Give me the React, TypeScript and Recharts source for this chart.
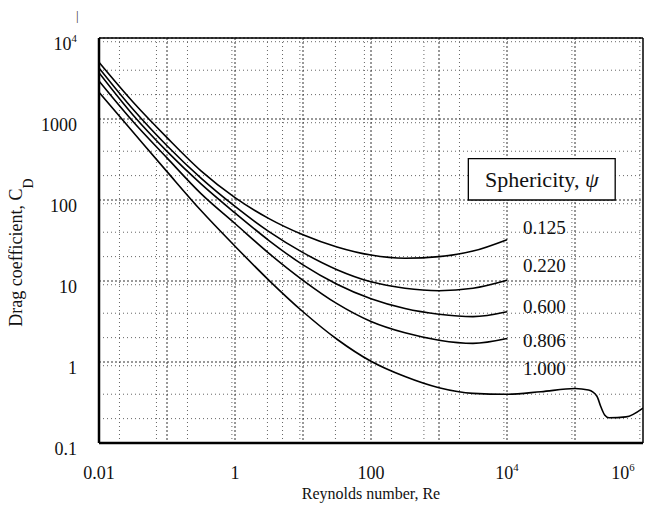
import {
  LineChart,
  Line,
  XAxis,
  YAxis,
  CartesianGrid,
  ReferenceArea,
  ReferenceDot,
  ReferenceLine,
  Label,
} from "recharts";

const SERIF = '"Liberation Serif", "DejaVu Serif", serif';

// Reynolds numbers where the non-spherical curves were read
const reynolds = [0.01, 0.0316, 0.1, 0.316, 1, 3.16, 10, 31.6, 100, 316, 1000, 3162, 10000];
const cd0125 = [5010, 1620, 589, 229, 107, 58.9, 37.2, 26.3, 20.9, 19.1, 20.0, 23.4, 32.4];
const cd0220 = [4270, 1320, 468, 186, 83.2, 40.7, 22.4, 13.8, 9.77, 8.13, 7.59, 8.13, 10.2];
const cd0600 = [3720, 1120, 398, 158, 69.2, 31.6, 15.8, 9.12, 6.03, 4.57, 3.89, 3.63, 4.17];
const cd0806 = [2950, 933, 331, 120, 51.3, 21.9, 10.2, 5.25, 3.16, 2.29, 1.86, 1.7, 1.95];

// sphere curve runs on to Re = 1e6 (drag crisis near 3e5)
const reSphere = [
  0.01, 0.0316, 0.1, 0.316, 1, 3.16, 10, 31.6, 100, 316, 1000, 3162, 10000, 31623,
  100000, 158000, 209000, 240000, 275000, 316000, 562000, 1000000,
];
const cdSphere = [
  2140, 692, 224, 74.1, 26.9, 10.2, 4.17, 1.91, 1.02, 0.66, 0.48, 0.41, 0.4, 0.43,
  0.47, 0.45, 0.38, 0.28, 0.22, 0.205, 0.21, 0.27,
];

const sphericities = ["0.125", "0.220", "0.600", "0.806", "1.000"];
const labelCd = [46, 15.8, 4.8, 1.87, 0.84];
const labelRe = 17200;

const xTicks = [0.01, 1, 100, 10000, 1000000];
const yTicks = [0.1, 1, 10, 100, 1000, 10000];
const xDecades = [0.01, 0.1, 1, 10, 100, 1000, 10000, 100000];
const yDecades = [0.1, 1, 10, 100, 1000];

const minorOf = (decades: number[]) =>
  decades.flatMap((d) => [2, 3, 4, 5, 6, 7, 8, 9].map((k) => d * k));

const curves = [cd0125, cd0220, cd0600, cd0806].map((vals) =>
  reynolds.map((re, i) => ({ re, cd: vals[i] }))
);
const sphere = reSphere.map((re, i) => ({ re, cd: cdSphere[i] }));

const fmt = (v: number, fontSize: number) => {
  if (v >= 10000) {
    const exp = Math.round(Math.log10(v));
    return (
      <>
        10
        <tspan dy={-fontSize * 0.45} fontSize={fontSize * 0.6}>
          {exp}
        </tspan>
      </>
    );
  }
  return String(v);
};

const XTick = (props: any) => {
  const { x, y, payload } = props;
  return (
    <text x={x} y={y + 36} textAnchor="middle" fontSize={18} fontFamily={SERIF} fill="#111">
      {fmt(payload.value, 18)}
    </text>
  );
};

const YTick = (props: any) => {
  const { x, y, payload } = props;
  return (
    <text x={x - 22} y={y + 12} textAnchor="end" fontSize={18} fontFamily={SERIF} fill="#111">
      {fmt(payload.value, 18)}
    </text>
  );
};

const YTitle = (props: any) => {
  const { viewBox } = props;
  const bx = viewBox.x + 22;
  const cy = viewBox.y + viewBox.height / 2 + 12;
  return (
    <g>
      <text
        x={bx}
        y={cy}
        transform={`rotate(-90, ${bx}, ${cy})`}
        textAnchor="middle"
        fontSize={18}
        fontFamily={SERIF}
        fill="#111"
      >
        Drag coefficient, C
        <tspan dy={11} fontSize={14}>
          D
        </tspan>
      </text>
      <text x={viewBox.x + 76} y={viewBox.y - 18} fontSize={13} fontFamily={SERIF} fill="#333">
        |
      </text>
    </g>
  );
};

const XTitle = (props: any) => {
  const { viewBox } = props;
  return (
    <text
      x={viewBox.x + viewBox.width / 2}
      y={viewBox.y + 56}
      textAnchor="middle"
      fontSize={16}
      fontFamily={SERIF}
      fill="#111"
    >
      Reynolds number, Re
    </text>
  );
};

const CurveLabel = (props: any) => {
  const { viewBox, value } = props;
  return (
    <text x={viewBox.x} y={viewBox.y} dy="0.35em" fontSize={19} fontFamily={SERIF} fill="#111">
      {value}
    </text>
  );
};

const BoxLabel = (props: any) => {
  const { viewBox } = props;
  return (
    <text
      x={viewBox.x + viewBox.width / 2}
      y={viewBox.y + viewBox.height / 2}
      dy="0.35em"
      textAnchor="middle"
      fontSize={22}
      fontFamily={SERIF}
      fill="#111"
    >
      Sphericity,{"  "}
      <tspan fontStyle="italic">ψ</tspan>
    </text>
  );
};

export default function App() {
  // pull the chart over the body margin so the page corner is the chart corner
  return (
    <div style={{ width: 651, height: 505, marginTop: -8, marginLeft: -8, background: "#fff" }}>
      <LineChart width={651} height={505} margin={{ top: 38, right: 8, bottom: 0, left: 0 }}>
        <CartesianGrid
          horizontalValues={minorOf(yDecades)}
          verticalValues={minorOf(xDecades)}
          stroke="#666"
          strokeDasharray="1 3"
        />
        <CartesianGrid
          horizontalValues={yTicks}
          verticalValues={xDecades}
          stroke="#333"
          strokeDasharray="2 2"
        />
        <XAxis
          dataKey="re"
          type="number"
          scale="log"
          domain={[0.01, 1000000]}
          allowDataOverflow
          ticks={xTicks}
          tick={<XTick />}
          tickLine={false}
          tickSize={0}
          tickMargin={0}
          height={62}
          axisLine={{ stroke: "#000", strokeWidth: 2.5 }}
        >
          <Label content={<XTitle />} />
        </XAxis>
        <YAxis
          type="number"
          scale="log"
          domain={[0.1, 10000]}
          allowDataOverflow
          ticks={yTicks}
          tick={<YTick />}
          tickLine={false}
          tickSize={0}
          tickMargin={0}
          width={99}
          axisLine={{ stroke: "#000", strokeWidth: 2.5 }}
        >
          <Label content={<YTitle />} />
        </YAxis>
        <ReferenceLine y={10000} stroke="#000" strokeWidth={1.5} />
        <ReferenceLine x={1000000} stroke="#000" strokeWidth={1.5} />
        <ReferenceArea
          x1={2700}
          x2={390000}
          y1={100}
          y2={324}
          fill="#fff"
          fillOpacity={1}
          stroke="#000"
          strokeWidth={1.3}
          label={<BoxLabel />}
        />
        {curves.map((data, i) => (
          <Line
            key={sphericities[i]}
            data={data}
            dataKey="cd"
            type="monotone"
            stroke="#000"
            strokeWidth={1.6}
            dot={false}
            isAnimationActive={false}
          />
        ))}
        <Line
          data={sphere}
          dataKey="cd"
          type="monotone"
          stroke="#000"
          strokeWidth={1.6}
          dot={false}
          isAnimationActive={false}
        />
        {sphericities.map((s, i) => (
          <ReferenceDot
            key={`lbl-${s}`}
            x={labelRe}
            y={labelCd[i]}
            r={0.01}
            fill="none"
            stroke="none"
            label={<CurveLabel value={s} />}
          />
        ))}
      </LineChart>
    </div>
  );
}
